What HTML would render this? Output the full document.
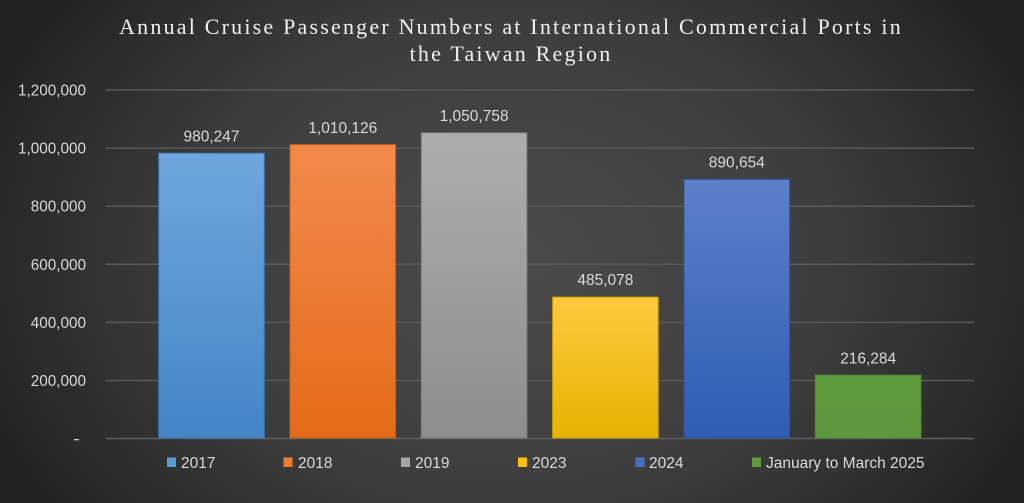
<!DOCTYPE html>
<html><head><meta charset="utf-8"><style>
html,body{margin:0;padding:0;background:#262626;}
svg{display:block;}
</style></head><body>
<svg width="1024" height="503" viewBox="0 0 1024 503" xmlns="http://www.w3.org/2000/svg">
<defs>
<radialGradient id="bg" cx="512" cy="260" r="560" gradientUnits="userSpaceOnUse" gradientTransform="translate(512 260) scale(1 0.75) translate(-512 -260)">
<stop offset="0" stop-color="#4b4b4b"/>
<stop offset="0.55" stop-color="#3e3e3e"/>
<stop offset="1" stop-color="#242424"/>
</radialGradient>
<linearGradient id="g1" x1="0" y1="0" x2="0" y2="1"><stop offset="0" stop-color="#6fa6de"/><stop offset="1" stop-color="#4385c6"/></linearGradient>
<linearGradient id="g2" x1="0" y1="0" x2="0" y2="1"><stop offset="0" stop-color="#f28a4c"/><stop offset="1" stop-color="#e46b18"/></linearGradient>
<linearGradient id="g3" x1="0" y1="0" x2="0" y2="1"><stop offset="0" stop-color="#adadad"/><stop offset="1" stop-color="#8d8d8d"/></linearGradient>
<linearGradient id="g4" x1="0" y1="0" x2="0" y2="1"><stop offset="0" stop-color="#ffc840"/><stop offset="1" stop-color="#e6b300"/></linearGradient>
<linearGradient id="g5" x1="0" y1="0" x2="0" y2="1"><stop offset="0" stop-color="#5c81c9"/><stop offset="1" stop-color="#2e5db4"/></linearGradient>
<linearGradient id="g6" x1="0" y1="0" x2="0" y2="1"><stop offset="0" stop-color="#609b3f"/><stop offset="1" stop-color="#5f973d"/></linearGradient>
</defs>
<rect x="0" y="0" width="1024" height="503" fill="url(#bg)"/>

<g font-family="'Liberation Serif', serif" font-size="22" fill="#f0f0f0" text-anchor="middle" letter-spacing="2.2">
<text x="511" y="34">Annual Cruise Passenger Numbers at International Commercial Ports in</text>
<text x="511" y="61">the Taiwan Region</text>
</g>

<g stroke="#595959" stroke-width="1.5">
<line x1="106" y1="90" x2="974" y2="90"/>
<line x1="106" y1="148.1" x2="974" y2="148.1"/>
<line x1="106" y1="206.2" x2="974" y2="206.2"/>
<line x1="106" y1="264.3" x2="974" y2="264.3"/>
<line x1="106" y1="322.4" x2="974" y2="322.4"/>
<line x1="106" y1="380.5" x2="974" y2="380.5"/>
<line x1="106" y1="438.5" x2="974" y2="438.5" stroke="#5e5e5e"/>
</g>

<g font-family="'Liberation Sans', sans-serif" font-size="15.3" fill="#d9d9d9" text-anchor="end">
<text x="86" y="95.5">1,200,000</text>
<text x="86" y="153.6">1,000,000</text>
<text x="86" y="211.7">800,000</text>
<text x="86" y="269.8">600,000</text>
<text x="86" y="327.9">400,000</text>
<text x="86" y="386">200,000</text>
</g>
<rect x="74" y="439" width="5" height="1.3" fill="#d0d0d0"/>

<g stroke-width="1">
<rect x="158.7" y="153.2" width="105.6" height="284.8" fill="url(#g1)" stroke="#3f78b2"/>
<rect x="290" y="144.6" width="105.6" height="293.4" fill="url(#g2)" stroke="#c55d15"/>
<rect x="421.3" y="132.8" width="105.6" height="305.2" fill="url(#g3)" stroke="#7f7f7f"/>
<rect x="552.6" y="297.1" width="105.6" height="140.9" fill="url(#g4)" stroke="#c99d00"/>
<rect x="684" y="179.3" width="105.6" height="258.7" fill="url(#g5)" stroke="#2a54a2"/>
<rect x="815.3" y="375.2" width="105.6" height="62.8" fill="url(#g6)" stroke="#548a36"/>
</g>

<g font-family="'Liberation Sans', sans-serif" font-size="15.5" fill="#d9d9d9" text-anchor="middle">
<text x="211.5" y="141.5">980,247</text>
<text x="342.8" y="132.8">1,010,126</text>
<text x="474.1" y="120.9">1,050,758</text>
<text x="605.4" y="285.2">485,078</text>
<text x="736.8" y="167.4">890,654</text>
<text x="868.1" y="363.3">216,284</text>
</g>

<g font-family="'Liberation Sans', sans-serif" font-size="15.5" fill="#d9d9d9">
<rect x="167" y="457.5" width="9" height="9.5" fill="#5b9bd5"/>
<text x="181" y="468">2017</text>
<rect x="283.5" y="457.5" width="9" height="9.5" fill="#ed7d31"/>
<text x="298" y="468">2018</text>
<rect x="401" y="457.5" width="9" height="9.5" fill="#a5a5a5"/>
<text x="415" y="468">2019</text>
<rect x="518" y="457.5" width="9" height="9.5" fill="#ffc000"/>
<text x="532" y="468">2023</text>
<rect x="635.5" y="457.5" width="9" height="9.5" fill="#4472c4"/>
<text x="649" y="468">2024</text>
<rect x="752" y="457.5" width="9" height="9.5" fill="#5f9a3e"/>
<text x="766" y="468">January to March 2025</text>
</g>
</svg>
</body></html>
